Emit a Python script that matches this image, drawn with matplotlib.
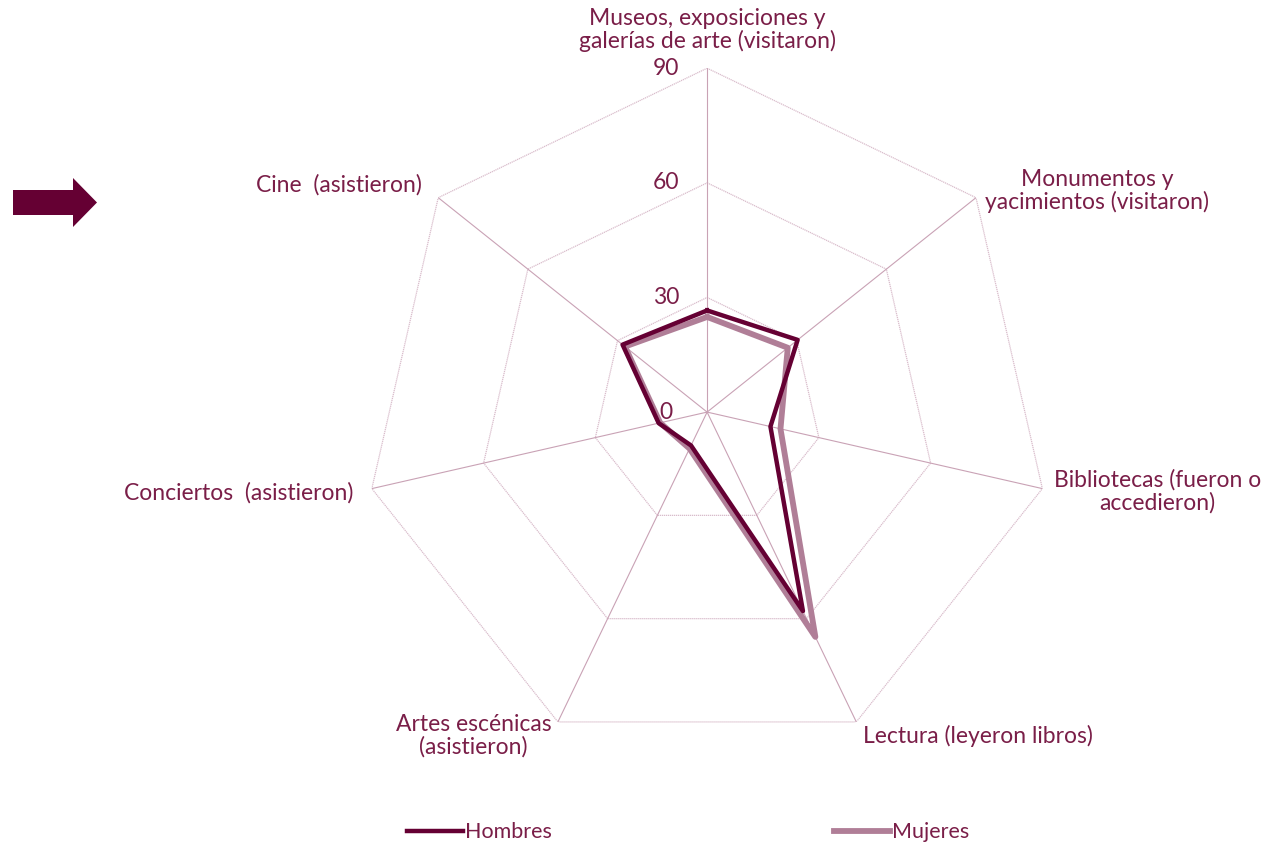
import numpy as np
import matplotlib
matplotlib.use('Agg')
import matplotlib.pyplot as plt
from matplotlib.patches import FancyArrow
from matplotlib.transforms import offset_copy

plt.rcParams['font.family'] = ['Lato', 'DejaVu Sans']

categories = ['Museos, exposiciones y\ngalerías de arte (visitaron)',
              'Monumentos y\nyacimientos (visitaron)',
              'Bibliotecas (fueron o\naccedieron)',
              'Lectura (leyeron libros)',
              'Artes escénicas\n(asistieron)',
              'Conciertos  (asistieron)',
              'Cine  (asistieron)']
hombres = [26.6, 30.3, 17.0, 57.8, 9.7, 13.0, 28.3]
mujeres = [24.9, 27.0, 19.7, 65.3, 10.6, 12.6, 27.5]
rticks = [0, 30, 60, 90]

c_h = '#650033'
c_m = '#b07e97'
c_txt = '#7a1e48'
c_grid = '#d9bccb'
c_spoke = '#c9a2b5'

n = len(categories)
angles = np.linspace(0, 2 * np.pi, n, endpoint=False)
closed = np.append(angles, angles[0])

fig = plt.figure(figsize=(12.72, 8.46), dpi=100)
ax = fig.add_axes([0.2854, 0.1064, 0.541, 0.813], projection='polar')
ax.set_theta_zero_location('N')
ax.set_theta_direction(-1)
ax.set_ylim(0, 90)
ax.grid(False)
ax.spines['polar'].set_visible(False)
ax.set_xticks([])
ax.set_yticks([])
ax.patch.set_alpha(0)

# polygon grid
for r in rticks[1:]:
    ax.plot(closed, [r] * (n + 1), color=c_grid, lw=0.9, ls=(0, (1, 0.6)), zorder=1)
for a in angles:
    ax.plot([a, a], [0, 90], color=c_spoke, lw=0.8, zorder=1)

ax.plot(closed, mujeres + mujeres[:1], color=c_m, lw=4.2, label='Mujeres', zorder=3)
ax.plot(closed, hombres + hombres[:1], color=c_h, lw=3.2, label='Hombres', zorder=4)

fs = 16.5

# radial tick labels
tr = offset_copy(ax.transData, fig=fig, x=-41, y=0, units='dots')
for r in rticks:
    ax.text(0, r, str(r), transform=tr, ha='center', va='center',
            fontsize=fs, color=c_txt)

# category labels
label_pos = [
    (100, 'center', 'center'),
    (93, 'left', 'center'),
    (93, 'left', 'center'),
    (94, 'left', 'center'),
    (94, 'right', 'center'),
    (95, 'right', 'center'),
    (95.5, 'right', 'center'),
]
for a, lab, (r, ha, va) in zip(angles, categories, label_pos):
    ax.text(a, r, lab, ha=ha, va=va, multialignment='center',
            fontsize=fs, color=c_txt, linespacing=1.05)

# legend
handles, labels = ax.get_legend_handles_labels()
fig.legend(handles[::-1], labels[::-1], loc='center', bbox_to_anchor=(0.541, 0.0165),
           ncol=2, frameon=False, labelcolor=c_txt,
           handlelength=2.6, handletextpad=0.1, columnspacing=13.1,
           prop={'size': 15.5})

# decorative arrow
ov = fig.add_axes([0, 0, 1, 1], zorder=-1)
ov.set_xlim(0, 1272)
ov.set_ylim(846, 0)
ov.axis('off')
ov.add_patch(FancyArrow(13, 202.5, 84, 0, width=25, head_width=49, head_length=24,
                        length_includes_head=True, color=c_h, lw=0))

fig.savefig('out.png', dpi=100)
